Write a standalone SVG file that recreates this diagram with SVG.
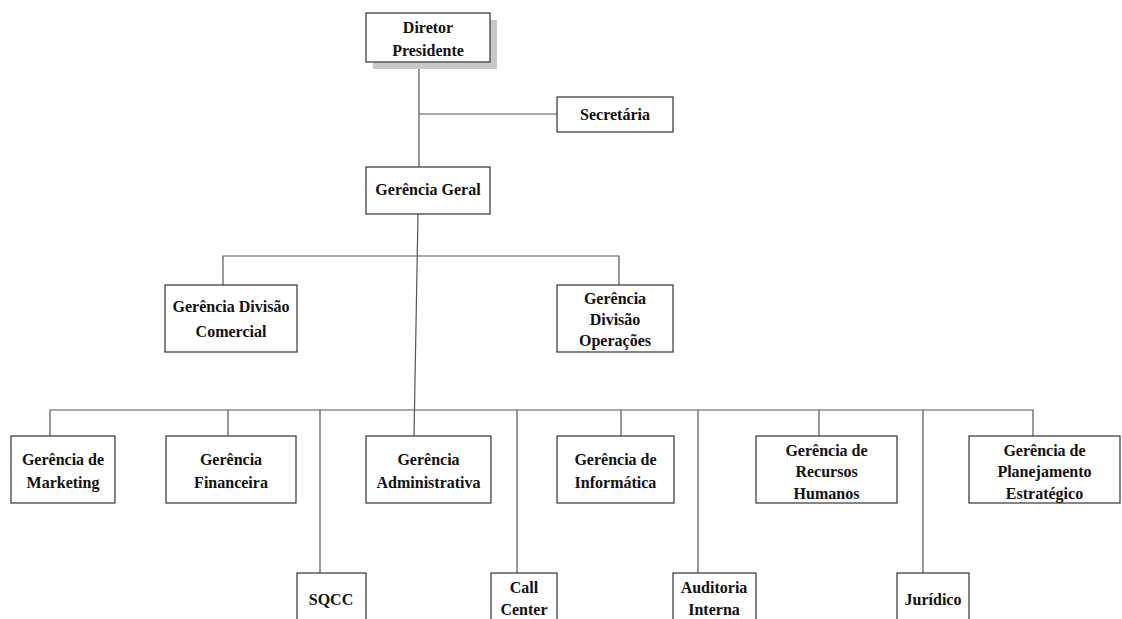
<svg xmlns="http://www.w3.org/2000/svg" width="1122" height="619" viewBox="0 0 1122 619">
<style>
.box{fill:#fff;stroke:#333;stroke-width:1.2}
.t{font-family:"Liberation Serif","Times New Roman",serif;font-weight:bold;font-size:16px;fill:#111;text-anchor:middle}
.c{fill:none;stroke:#555;stroke-width:1.2}
</style>
<rect width="1122" height="619" fill="#fff"/>
<g id="connectors">
<path class="c" d="M419 62V167M419 114H557"/>
<path class="c" d="M418 214L414 436"/>
<path class="c" d="M223 285V256H619V285"/>
<path class="c" d="M50 436V410H1033V436"/>
<path class="c" d="M228 410V436M320 410V573M517 410V573M621 410V436M698 410V573M819 410V436M923 410V573"/>
</g>
<g id="diretor"><rect x="373" y="20" width="124" height="49" fill="#c8c8c8"/><rect class="box" x="366" y="13" width="124" height="49"/><text class="t" x="428" y="33">Diretor</text><text class="t" x="428" y="56">Presidente</text></g>
<g id="secretaria"><rect class="box" x="557" y="97" width="116" height="35"/><text class="t" x="615" y="120">Secretária</text></g>
<g id="geral"><rect class="box" x="366" y="167" width="124" height="47"/><text class="t" x="428" y="195">Gerência Geral</text></g>
<g id="comercial"><rect class="box" x="165" y="285" width="132" height="67"/><text class="t" x="231" y="312">Gerência Divisão</text><text class="t" x="231" y="337">Comercial</text></g>
<g id="operacoes"><rect class="box" x="557" y="285" width="116" height="67"/><text class="t" x="615" y="304">Gerência</text><text class="t" x="615" y="325">Divisão</text><text class="t" x="615" y="346">Operações</text></g>
<g id="marketing"><rect class="box" x="11" y="436" width="104" height="67"/><text class="t" x="63" y="465">Gerência de</text><text class="t" x="63" y="488">Marketing</text></g>
<g id="financeira"><rect class="box" x="166" y="436" width="130" height="67"/><text class="t" x="231" y="465">Gerência</text><text class="t" x="231" y="488">Financeira</text></g>
<g id="administrativa"><rect class="box" x="366" y="436" width="125" height="67"/><text class="t" x="428.5" y="465">Gerência</text><text class="t" x="428.5" y="488">Administrativa</text></g>
<g id="informatica"><rect class="box" x="557" y="436" width="117" height="67"/><text class="t" x="615.5" y="465">Gerência de</text><text class="t" x="615.5" y="488">Informática</text></g>
<g id="rh"><rect class="box" x="756" y="436" width="141" height="67"/><text class="t" x="826.5" y="456">Gerência de</text><text class="t" x="826.5" y="477">Recursos</text><text class="t" x="826.5" y="499">Humanos</text></g>
<g id="planejamento"><rect class="box" x="969" y="436" width="151" height="67"/><text class="t" x="1044.5" y="456">Gerência de</text><text class="t" x="1044.5" y="477">Planejamento</text><text class="t" x="1044.5" y="499">Estratégico</text></g>
<g id="sqcc"><rect class="box" x="297" y="573" width="69" height="60"/><text class="t" x="331" y="605">SQCC</text></g>
<g id="callcenter"><rect class="box" x="491" y="573" width="66" height="60"/><text class="t" x="524" y="593">Call</text><text class="t" x="524" y="615">Center</text></g>
<g id="auditoria"><rect class="box" x="673" y="573" width="83" height="60"/><text class="t" x="714" y="593">Auditoria</text><text class="t" x="714" y="615">Interna</text></g>
<g id="juridico"><rect class="box" x="897" y="573" width="72" height="60"/><text class="t" x="933" y="605">Jurídico</text></g>
</svg>
